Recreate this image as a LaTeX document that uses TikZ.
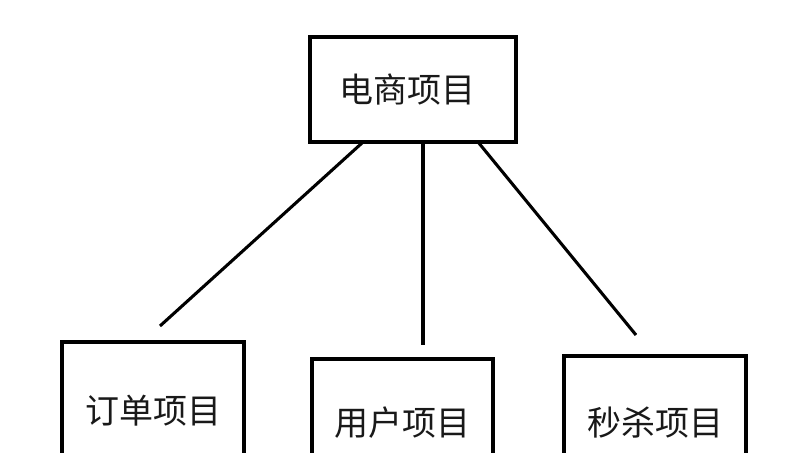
\documentclass[tikz,border=0pt]{standalone}
\usepackage{fontspec}
\newfontfamily\cjk{Noto Sans CJK SC}
\begin{document}
\begin{tikzpicture}[x=0.75pt,y=-0.75pt,
  box/.style={draw=black, line width=3pt, fill=white, inner sep=0pt,
    font=\cjk\fontsize{25.5}{29}\selectfont, text=black!90},
  link/.style={draw=black, line width=2.3pt}]
\useasboundingbox (0,0) rectangle (811,453);
\clip (0,0) rectangle (811,453);
\fill[white] (0,0) rectangle (811,453);
% connectors
\coordinate (a1) at (362,143); \coordinate (b1) at (160,326);
\coordinate (a2) at (423,143); \coordinate (b2) at (423,345);
\coordinate (a3) at (478,142); \coordinate (b3) at (636,335);
\draw[link] (a1) -- (b1);
\draw[link] (a2) -- (b2);
\draw[link] (a3) -- (b3);
% boxes
\node[box, minimum width=154.5pt, minimum height=78.75pt] (top) at (413,89.5) {\kern-9pt 电商项目};
\node[box, minimum width=136.5pt, minimum height=103.5pt] (order) at (153,411) {订单项目};
\node[box, minimum width=135.75pt, minimum height=96pt] (user) at (402.5,423) {用户项目};
\node[box, minimum width=136.5pt, minimum height=100.5pt] (seckill) at (655,423) {秒杀项目};
\end{tikzpicture}
\end{document}
